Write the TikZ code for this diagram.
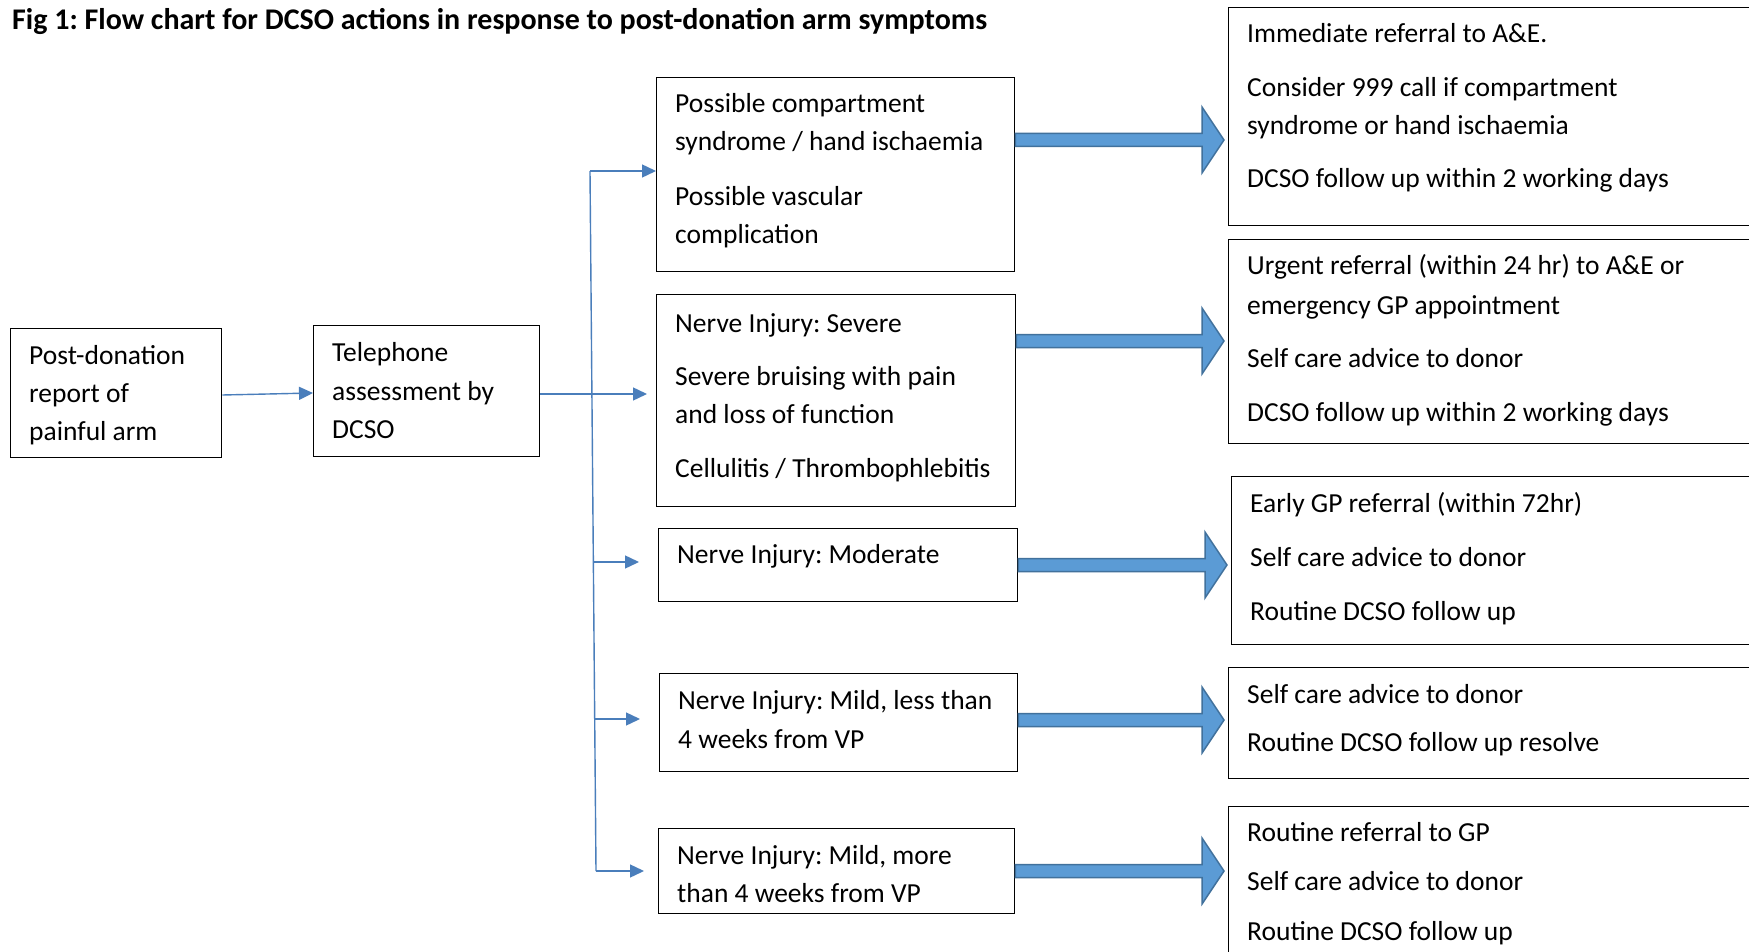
\documentclass[tikz,border=0pt]{standalone}
\usepackage{fontspec}
\setmainfont{Carlito}
\usetikzlibrary{arrows.meta,calc}
\definecolor{connblue}{HTML}{4A7EBB}
\definecolor{arrfill}{HTML}{5B9BD5}
\definecolor{arrdraw}{HTML}{41719C}
\frenchspacing
\newcommand\bigarrow[3]{%
  \path (#1.east |- 0,#3) coordinate (ba-s) (#2.west |- 0,#3) coordinate (ba-e);
  \draw[blockarrow] ($(ba-s)+(0,-6.5)$) -- ($(ba-e)+(-26,-6.5)$) -- ($(ba-e)+(-26,-33)$)
    -- ($(ba-e)+(-4,0)$) -- ($(ba-e)+(-26,33)$) -- ($(ba-e)+(-26,6.5)$) -- ($(ba-s)+(0,6.5)$) -- cycle;}
\begin{document}
\begin{tikzpicture}[x=1pt,y=-1pt,
  box/.style={draw=black, line width=1.3pt, rectangle, inner sep=0pt, anchor=north west},
  txt/.style={anchor=base west, inner sep=0pt, font=\frenchspacing\fontsize{27.5}{33}\selectfont},
  conn/.style={draw=connblue, line width=1.4pt, -{Triangle[length=14pt,width=13pt]}},
  vline/.style={draw=connblue, line width=1.4pt},
  blockarrow/.style={fill=arrfill, draw=arrdraw, line width=1.5pt, line join=miter}]
\useasboundingbox (0,0) rectangle (1749,952);
\clip (0,0) rectangle (1749,952);
\fill[white] (0,0) rectangle (1749,952);

% title
\node[txt, font=\frenchspacing\bfseries\fontsize{30}{36}\selectfont] (title) at (12,30) {Fig 1: Flow chart for DCSO actions in response to post-donation arm symptoms};

% left boxes
\node[box, minimum width=211pt, minimum height=129pt] (post) at (10,328) {};
\node[txt] (post1) at (29,364) {Post-donation};
\node[txt] (post2) at (29,402) {report of};
\node[txt] (post3) at (29,440) {painful arm};

\node[box, minimum width=226pt, minimum height=131pt] (tel) at (313,325) {};
\node[txt] (tel1) at (332,361) {Telephone};
\node[txt] (tel2) at (332,400) {assessment by};
\node[txt] (tel3) at (332,438) {DCSO};

% middle boxes
\node[box, minimum width=358pt, minimum height=194pt] (comp) at (656,77) {};
\node[txt] (comp1) at (675,113) {Possible compartment};
\node[txt] (comp2) at (675,151) {syndrome / hand ischaemia};
\node[txt] (comp3) at (675,206) {Possible vascular};
\node[txt] (comp4) at (675,244) {complication};

\node[box, minimum width=359pt, minimum height=212pt] (sev) at (656,294) {};
\node[txt] (sev1) at (675,332) {Nerve Injury: Severe};
\node[txt] (sev2) at (675,385) {Severe bruising with pain};
\node[txt] (sev3) at (675,423) {and loss of function};
\node[txt] (sev4) at (675,477) {Cellulitis / Thrombophlebitis};

\node[box, minimum width=359pt, minimum height=73pt] (mod) at (658,528) {};
\node[txt] (mod1) at (677,563) {Nerve Injury: Moderate};

\node[box, minimum width=358pt, minimum height=98pt] (mildl) at (659,673) {};
\node[txt] (mildl1) at (678,709) {Nerve Injury: Mild, less than};
\node[txt] (mildl2) at (678,748) {4 weeks from VP};

\node[box, minimum width=356pt, minimum height=85pt] (mildm) at (658,828) {};
\node[txt] (mildm1) at (677,864) {Nerve Injury: Mild, more};
\node[txt] (mildm2) at (677,902) {than 4 weeks from VP};

% right boxes
\node[box, minimum width=560pt, minimum height=218pt] (r1) at (1228,7) {};
\node[txt] (r11) at (1247,43) {Immediate referral to A\&E.};
\node[txt] (r12) at (1247,97) {Consider 999 call if compartment};
\node[txt] (r13) at (1247,135) {syndrome or hand ischaemia};
\node[txt] (r14) at (1247,188) {DCSO follow up within 2 working days};

\node[box, minimum width=560pt, minimum height=204pt] (r2) at (1228,239) {};
\node[txt] (r21) at (1247,275) {Urgent referral (within 24 hr) to A\&E or};
\node[txt] (r22) at (1247,314) {emergency GP appointment};
\node[txt] (r23) at (1247,367) {Self care advice to donor};
\node[txt] (r24) at (1247,421) {DCSO follow up within 2 working days};

\node[box, minimum width=560pt, minimum height=168pt] (r3) at (1231,476) {};
\node[txt] (r31) at (1250,512) {Early GP referral (within 72hr)};
\node[txt] (r32) at (1250,566) {Self care advice to donor};
\node[txt] (r33) at (1250,620) {Routine DCSO follow up};

\node[box, minimum width=560pt, minimum height=111pt] (r4) at (1228,667) {};
\node[txt] (r41) at (1247,703) {Self care advice to donor};
\node[txt] (r42) at (1247,751) {Routine DCSO follow up resolve};

\node[box, minimum width=560pt, minimum height=200pt] (r5) at (1228,806) {};
\node[txt] (r51) at (1247,841) {Routine referral to GP};
\node[txt] (r52) at (1247,890) {Self care advice to donor};
\node[txt] (r53) at (1247,940) {Routine DCSO follow up};

% thin connectors
\draw[conn] (post.east |- 0,395) -- (tel.west |- 0,393);
\coordinate (vtop) at (590,171);
\coordinate (vbot) at (596,871);
\draw[vline] (vtop) -- (vbot);
\draw[conn] (vtop) -- (vtop -| comp.west);
\draw[conn] (tel.east |- 0,394) -- ([xshift=-9pt]sev.west |- 0,394);
\coordinate (j3) at (593,562);
\coordinate (j4) at (594,719);
\draw[conn, shorten >=19pt] (j3) -- (j3 -| mod.west);
\draw[conn, shorten >=19pt] (j4) -- (j4 -| mildl.west);
\draw[conn, shorten >=14pt] (vbot) -- (vbot -| mildm.west);

% block arrows
\bigarrow{comp}{r1}{140}
\bigarrow{sev}{r2}{341}
\bigarrow{mod}{r3}{565}
\bigarrow{mildl}{r4}{720}
\bigarrow{mildm}{r5}{871}
\end{tikzpicture}
\end{document}
